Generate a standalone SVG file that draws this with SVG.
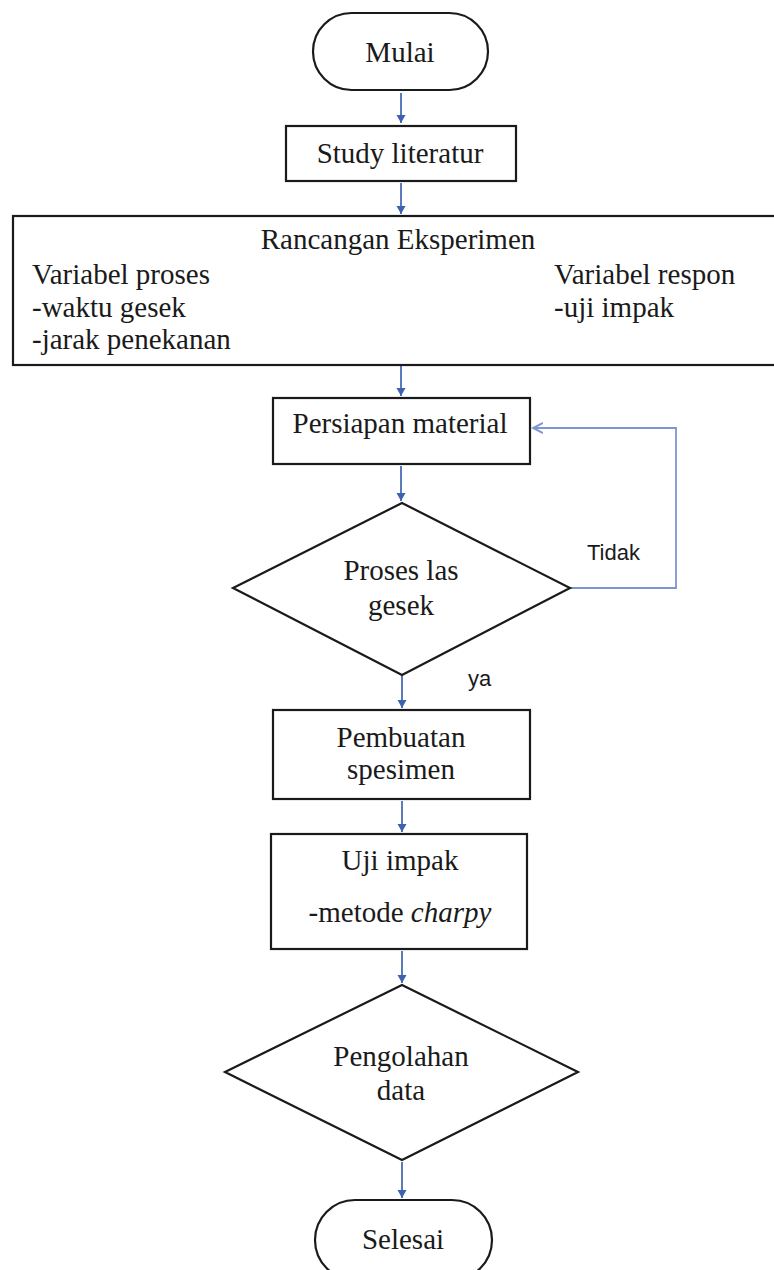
<svg xmlns="http://www.w3.org/2000/svg" width="774" height="1270" viewBox="0 0 774 1270">
<defs>
<style>
.shape{fill:#fff;stroke:#1a1a1a;stroke-width:2.2}
.t{font-family:"Liberation Serif","Times New Roman",serif;font-size:29px;fill:#1a1a1a}
.c{text-anchor:middle}
.s{font-family:"Liberation Sans",Arial,sans-serif;font-size:22px;fill:#1a1a1a}
.ar{stroke:#3d63b0;stroke-width:1.7;fill:none;marker-end:url(#ah)}
.loop{stroke:#7c97d0;stroke-width:1.8;fill:none;marker-end:url(#ah2)}
</style>
<marker id="ah" markerWidth="10" markerHeight="10" refX="8" refY="5" orient="auto" markerUnits="userSpaceOnUse">
<path d="M0,0.5 L8,5 L0,9.5 Z" fill="#3d63b0"/>
</marker>
<marker id="ah2" markerWidth="12" markerHeight="12" refX="10" refY="6" orient="auto" markerUnits="userSpaceOnUse">
<path d="M0,1 L10,6 L0,11" fill="none" stroke="#7c97d0" stroke-width="2"/>
</marker>
</defs>
<rect width="774" height="1270" fill="#fff"/>
<g id="connectors">
<line class="ar" x1="401" y1="93" x2="401" y2="123"/>
<line class="ar" x1="401" y1="183" x2="401" y2="214"/>
<line class="ar" x1="401" y1="366" x2="401" y2="396"/>
<line class="ar" x1="401" y1="466" x2="401" y2="501"/>
<line class="ar" x1="402" y1="676" x2="402" y2="708"/>
<line class="ar" x1="402" y1="801" x2="402" y2="832"/>
<line class="ar" x1="402" y1="951" x2="402" y2="983"/>
<line class="ar" x1="402" y1="1162" x2="402" y2="1198"/>
<polyline class="loop" points="570,588 676,588 676,428 533,428"/>
</g>
<g id="mulai">
<rect class="shape" x="313" y="13" width="175" height="77" rx="38.5"/>
<text class="t c" x="400" y="62">Mulai</text>
</g>
<g id="study">
<rect class="shape" x="286" y="126" width="230" height="55"/>
<text class="t c" x="400" y="163">Study literatur</text>
</g>
<g id="rancangan">
<rect class="shape" x="13" y="216" width="770" height="149"/>
<text class="t c" x="398" y="249">Rancangan Eksperimen</text>
<text class="t" x="32" y="284">Variabel proses</text>
<text class="t" x="32" y="317">-waktu gesek</text>
<text class="t" x="32" y="349">-jarak penekanan</text>
<text class="t" x="554" y="284">Variabel respon</text>
<text class="t" x="554" y="317">-uji impak</text>
</g>
<g id="persiapan">
<rect class="shape" x="273" y="398" width="257" height="66"/>
<text class="t c" x="400" y="433">Persiapan material</text>
</g>
<g id="proses">
<polygon class="shape" points="402,503 570,588 402,675 233,588"/>
<text class="t c" x="401" y="580">Proses las</text>
<text class="t c" x="401" y="615">gesek</text>
<text class="s" x="587" y="560">Tidak</text>
<text class="s" x="468" y="686">ya</text>
</g>
<g id="pembuatan">
<rect class="shape" x="273" y="710" width="257" height="89"/>
<text class="t c" x="401" y="747">Pembuatan</text>
<text class="t c" x="401" y="779">spesimen</text>
</g>
<g id="uji">
<rect class="shape" x="271" y="834" width="256" height="115"/>
<text class="t c" x="400" y="870">Uji impak</text>
<text class="t c" x="400" y="922">-metode <tspan font-style="italic">charpy</tspan></text>
</g>
<g id="pengolahan">
<polygon class="shape" points="402,985 578,1072 402,1160 225,1072"/>
<text class="t c" x="401" y="1066">Pengolahan</text>
<text class="t c" x="401" y="1100">data</text>
</g>
<g id="selesai">
<rect class="shape" x="315" y="1200" width="177" height="80" rx="40"/>
<text class="t c" x="403" y="1249">Selesai</text>
</g>
</svg>
